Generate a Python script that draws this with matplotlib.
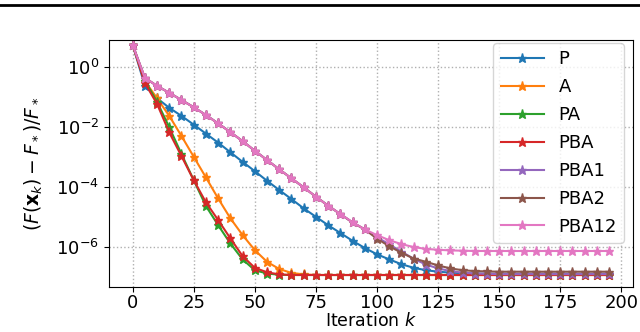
import numpy as np
import matplotlib
matplotlib.use("Agg")
import matplotlib.pyplot as plt
from matplotlib.lines import Line2D

# iterations 0,5,...,195 ; values given as log10 of relative error
iters = list(range(0, 200, 5))

log_P = [0.75, -0.61, -1.03, -1.35, -1.62, -1.91, -2.21, -2.51, -2.83, -3.15,
         -3.46, -3.78, -4.09, -4.39, -4.70, -4.98, -5.26, -5.52, -5.78, -6.02,
         -6.23, -6.40, -6.56, -6.68, -6.76, -6.81, -6.84, -6.86, -6.87, -6.88,
         -6.88, -6.88, -6.88, -6.88, -6.88, -6.88, -6.88, -6.88, -6.88, -6.88]
log_A = [0.75, -0.46, -1.03, -1.62, -2.29, -2.98, -3.67, -4.37, -5.03, -5.59,
         -6.09, -6.48, -6.72, -6.85, -6.90, -6.92, -6.92, -6.92, -6.92, -6.92,
         -6.92, -6.92, -6.92, -6.92, -6.92, -6.92, -6.92, -6.92, -6.92, -6.92,
         -6.92, -6.92, -6.92, -6.92, -6.92, -6.92, -6.92, -6.92, -6.92, -6.92]
log_PA = [0.75, -0.44, -1.15, -2.00, -2.89, -3.76, -4.62, -5.26, -5.87, -6.40,
          -6.76, -6.87, -6.91, -6.92, -6.92, -6.92, -6.92, -6.92, -6.92, -6.92,
          -6.92, -6.92, -6.92, -6.92, -6.92, -6.92, -6.92, -6.92, -6.92, -6.92,
          -6.92, -6.92, -6.92, -6.92, -6.92, -6.92, -6.92, -6.92, -6.92, -6.92]
log_PBA = [0.75, -0.52, -1.22, -2.17, -2.96, -3.76, -4.50, -5.09, -5.70, -6.29,
           -6.68, -6.83, -6.90, -6.92, -6.92, -6.92, -6.92, -6.92, -6.92, -6.92,
           -6.92, -6.92, -6.92, -6.92, -6.92, -6.92, -6.92, -6.92, -6.92, -6.92,
           -6.92, -6.92, -6.92, -6.92, -6.92, -6.92, -6.92, -6.92, -6.92, -6.92]
log_PBA1 = [0.75, -0.35, -0.62, -0.85, -1.09, -1.33, -1.59, -1.87, -2.16, -2.46,
            -2.78, -3.09, -3.40, -3.70, -4.00, -4.31, -4.61, -4.89, -5.17, -5.40,
            -5.66, -5.90, -6.14, -6.38, -6.57, -6.70, -6.79, -6.84, -6.87, -6.88,
            -6.89, -6.89, -6.89, -6.89, -6.89, -6.89, -6.89, -6.89, -6.89, -6.89]
log_PBA2 = [0.75, -0.35, -0.62, -0.85, -1.09, -1.33, -1.59, -1.87, -2.16, -2.46,
            -2.78, -3.09, -3.40, -3.70, -4.00, -4.31, -4.61, -4.89, -5.17, -5.40,
            -5.71, -5.96, -6.18, -6.37, -6.48, -6.60, -6.70, -6.76, -6.79, -6.80,
            -6.81, -6.81, -6.81, -6.81, -6.81, -6.81, -6.81, -6.81, -6.81, -6.81]
log_PBA12 = [0.75, -0.35, -0.62, -0.85, -1.09, -1.33, -1.59, -1.87, -2.16, -2.46,
             -2.78, -3.09, -3.40, -3.70, -4.00, -4.31, -4.61, -4.89, -5.16, -5.40,
             -5.59, -5.76, -5.89, -5.99, -6.05, -6.08, -6.10, -6.11, -6.12, -6.12,
             -6.12, -6.12, -6.12, -6.12, -6.12, -6.12, -6.12, -6.12, -6.12, -6.12]

names = ["P", "A", "PA", "PBA", "PBA1", "PBA2", "PBA12"]
series = [log_P, log_A, log_PA, log_PBA, log_PBA1, log_PBA2, log_PBA12]

fig = plt.figure(figsize=(6.4, 3.32), dpi=100)
ax = fig.add_axes([0.170, 0.1355, 0.819, 0.744])

for name, s in zip(names, series):
    ax.semilogy(iters, 10.0 ** np.array(s), marker="*", markersize=6.5,
                linewidth=1.5, label=name)

ax.set_xlim(-9.75, 204.75)
ax.set_ylim(10 ** -7.32, 10 ** 0.91)
ax.set_xticks(range(0, 201, 25))
ax.set_yticks([1e0, 1e-2, 1e-4, 1e-6])
ax.tick_params(labelsize=13)
ax.tick_params(axis="x", pad=1.5)
ax.grid(True, linestyle=":", color="#b0b0b0", linewidth=1)
ax.set_xlabel("Iteration $k$", fontsize=12.5, labelpad=0)
ax.set_ylabel(r"$(F(\mathbf{x}_k) - F_*)/F_*$", fontsize=13.5, labelpad=8)
ax.legend(loc="upper right", bbox_to_anchor=(0.983, 0.988), borderaxespad=0,
          fontsize=13, handlelength=2.4, labelspacing=0.55)

# page rule from the source document
fig.add_artist(Line2D([0, 1], [1 - 4.5 / 332, 1 - 4.5 / 332], color="black",
                      linewidth=2.0, transform=fig.transFigure))

fig.savefig("out.png", dpi=100)
